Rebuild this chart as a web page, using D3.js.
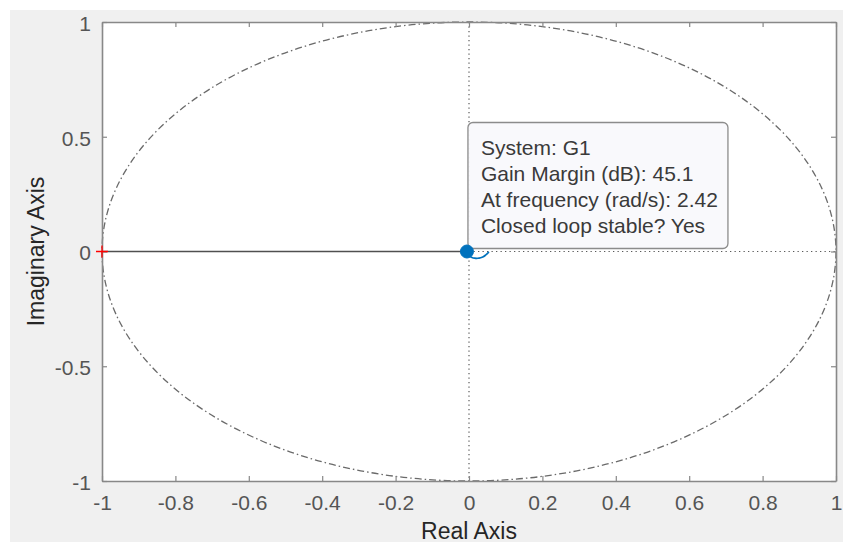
<!DOCTYPE html>
<html>
<head>
<meta charset="utf-8">
<script src="https://cdn.jsdelivr.net/npm/d3@7"></script>
<style>
  html, body { margin: 0; padding: 0; background: #ffffff; }
  svg { display: block; }
  text { font-family: "Liberation Sans", Arial, Helvetica, sans-serif; }
</style>
</head>
<body>
<script>
// Nyquist diagram of G1 with its gain-margin characteristic.

// Axis ticks
const xTicks = [-1, -0.8, -0.6, -0.4, -0.2, 0, 0.2, 0.4, 0.6, 0.8, 1];
const yTicks = [-1, -0.5, 0, 0.5, 1];

// Nyquist curve of G1 (real / imaginary parts), small loop near the origin
const nyqRe = [-0.0056, -0.0030, 0.0016, 0.0080, 0.0153, 0.0240, 0.0316, 0.0390, 0.0450, 0.0505, 0.0540];
const nyqIm = [0.0000, -0.0110, -0.0205, -0.0260, -0.0290, -0.0295, -0.0270, -0.0225, -0.0160, -0.0085, -0.0010];

// Gain-margin segment from the critical point to the crossing
const gmLineRe = [-1, -0.0056];
const gmLineIm = [0, 0];

// Critical point and gain-margin crossing
const criticalPoint = [-1, 0];
const marginPoint = [-0.0056, 0];

// Datatip contents
const tipLines = [
  "System: G1",
  "Gain Margin (dB): 45.1",
  "At frequency (rad/s): 2.42",
  "Closed loop stable? Yes"
];

const W = 843, H = 542;
const L = 102, R = 836, T = 22, B = 481;

const svg = d3.select("body").append("svg").attr("width", W).attr("height", H);

// Figure background
svg.append("rect").attr("x", 10).attr("y", 10).attr("width", W - 10).attr("height", H - 10)
  .attr("fill", "#f0f0f0");

const x = d3.scaleLinear().domain([-1, 1]).range([L, R]);
const y = d3.scaleLinear().domain([-1, 1]).range([B, T]);

// Plot area
svg.append("rect").attr("x", L).attr("y", T).attr("width", R - L).attr("height", B - T)
  .attr("fill", "#ffffff");

const axisColor = "#888888";
const tickColor = "#555555";

// Unit circle (dash-dot)
svg.append("ellipse")
  .attr("cx", x(0)).attr("cy", y(0))
  .attr("rx", x(1) - x(0)).attr("ry", y(0) - y(1))
  .attr("fill", "none").attr("stroke", "#6a6a6a").attr("stroke-width", 1.3)
  .attr("stroke-dasharray", "7,3,1.5,3");

// Dotted real / imaginary zero lines
svg.append("line")
  .attr("x1", x(0)).attr("x2", x(0)).attr("y1", y(1)).attr("y2", y(-1))
  .attr("stroke", "#5a5a5a").attr("stroke-width", 1.2).attr("stroke-dasharray", "1.3,3.2");
svg.append("line")
  .attr("x1", x(0)).attr("x2", x(1)).attr("y1", y(0)).attr("y2", y(0))
  .attr("stroke", "#5a5a5a").attr("stroke-width", 1.2).attr("stroke-dasharray", "1.3,3.2");

// Gain-margin segment
const line = d3.line().x(d => x(d[0])).y(d => y(d[1]));
svg.append("path")
  .datum(gmLineRe.map((r, i) => [r, gmLineIm[i]]))
  .attr("d", line)
  .attr("fill", "none").attr("stroke", "#505050").attr("stroke-width", 1.3);

// Nyquist curve
svg.append("path")
  .datum(nyqRe.map((r, i) => [r, nyqIm[i]]))
  .attr("d", d3.line().x(d => x(d[0])).y(d => y(d[1])).curve(d3.curveCatmullRom))
  .attr("fill", "none").attr("stroke", "#0072bd").attr("stroke-width", 1.7);

// Axes box with inward ticks on all four sides
const fmt = d => String(d);
const gx = svg.append("g").attr("transform", `translate(0,${B})`)
  .call(d3.axisBottom(x).tickValues(xTicks).tickSizeInner(-5).tickSizeOuter(0).tickPadding(11)
    .tickFormat(fmt));
const gxTop = svg.append("g").attr("transform", `translate(0,${T})`)
  .call(d3.axisTop(x).tickValues(xTicks).tickSizeInner(-5).tickSizeOuter(0).tickFormat(""));
const gy = svg.append("g").attr("transform", `translate(${L},0)`)
  .call(d3.axisLeft(y).tickValues(yTicks).tickSizeInner(-5).tickSizeOuter(0).tickPadding(11)
    .tickFormat(fmt));
const gyRight = svg.append("g").attr("transform", `translate(${R},0)`)
  .call(d3.axisRight(y).tickValues(yTicks).tickSizeInner(-5).tickSizeOuter(0).tickFormat(""));

[gx, gxTop, gy, gyRight].forEach(g => {
  g.select(".domain").attr("stroke", axisColor).attr("stroke-width", 1.6);
  g.selectAll(".tick line").attr("stroke", axisColor).attr("stroke-width", 1.2);
  g.selectAll(".tick text").attr("fill", tickColor).attr("font-size", 21)
    .attr("font-family", '"Liberation Sans", Arial, sans-serif');
});
gx.selectAll(".tick text").attr("dy", "0.88em");
gy.selectAll(".tick text").attr("dy", "0.4em");

// Critical point marker (+)
const cpx = x(criticalPoint[0]), cpy = y(criticalPoint[1]);
svg.append("path")
  .attr("d", `M${cpx - 6},${cpy}H${cpx + 6}M${cpx},${cpy - 6}V${cpy + 6}`)
  .attr("stroke", "#ff0000").attr("stroke-width", 1.3);

// Axis labels
svg.append("text").attr("x", (L + R) / 2).attr("y", 538.5)
  .attr("text-anchor", "middle").attr("font-size", 23).attr("fill", "#262626")
  .text("Real Axis");
svg.append("text")
  .attr("transform", `translate(44,${(T + B) / 2}) rotate(-90)`)
  .attr("text-anchor", "middle").attr("font-size", 23).attr("fill", "#262626")
  .text("Imaginary Axis");

// Datatip anchored at the gain-margin crossing
const mx = x(marginPoint[0]), my = y(marginPoint[1]);
const tip = svg.append("g").attr("transform", `translate(${mx + 1},${my - 3})`);
tip.append("rect")
  .attr("x", 0).attr("y", -126).attr("width", 260).attr("height", 126)
  .attr("rx", 5).attr("ry", 5)
  .attr("fill", "#f9f9fc").attr("fill-opacity", 0.95)
  .attr("stroke", "#8c8c8c").attr("stroke-width", 1.3);
tip.selectAll("text.tipline")
  .data(tipLines)
  .join("text")
  .attr("class", "tipline")
  .attr("x", 13)
  .attr("y", (d, i) => -94 + i * 26)
  .attr("font-size", 21)
  .attr("fill", "#3a3a3a")
  .text(d => d);

// Gain-margin marker
svg.append("circle").attr("cx", mx).attr("cy", my).attr("r", 6.5)
  .attr("fill", "#0072bd").attr("stroke", "#0072bd");
</script>
</body>
</html>
